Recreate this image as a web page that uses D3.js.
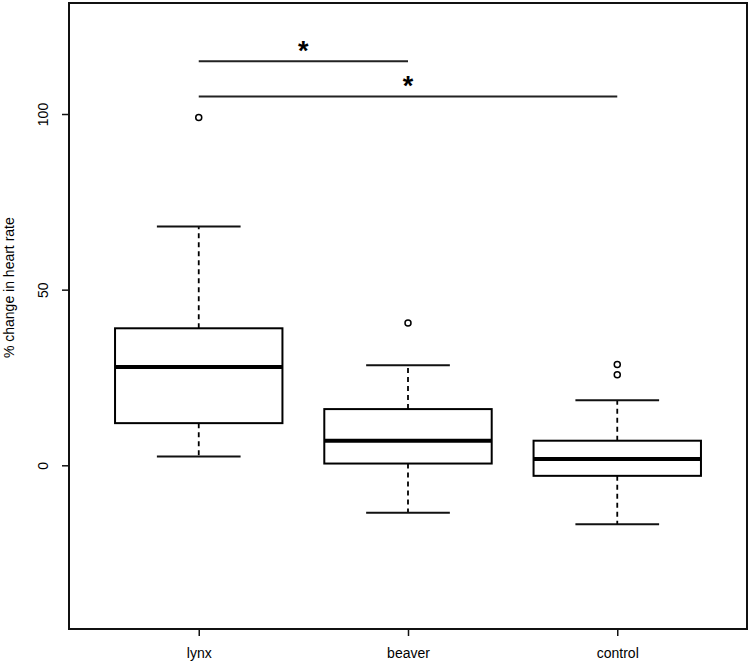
<!DOCTYPE html>
<html>
<head>
<meta charset="utf-8">
<script src="https://cdn.jsdelivr.net/npm/d3@7"></script>
<style>
  html, body { margin: 0; padding: 0; background: #fff; }
  svg { display: block; }
  text { font-family: "Liberation Sans", Arial, sans-serif; fill: #000; }
</style>
</head>
<body>
<svg id="chart" width="750" height="666"></svg>
<script>
// ---- data ----
const categories   = ["lynx", "beaver", "control"];
const whiskerLow   = [2.5, -13.5, -16.8];
const q1           = [12, 0.5, -3];
const medians      = [28, 7, 1.8];
const q3           = [39, 16, 7];
const whiskerHigh  = [68, 28.5, 18.5];
const outliers     = [[99], [40.5], [28.7, 25.8]];
const yTicks       = [0, 50, 100];
const yLabel       = "% change in heart rate";
const sigFrom      = ["lynx", "lynx"];
const sigTo        = ["beaver", "control"];
const sigLevel     = [115, 105];
const sigMark      = ["*", "*"];

// ---- layout ----
const svg = d3.select("#chart");
const plot = { left: 69, right: 747, top: 3, bottom: 629 };
const fontSize = "14px";

const x = d3.scaleLinear()
  .domain([0.38, 3.62])
  .range([plot.left, plot.right]);
const y = d3.scaleLinear()
  .domain([-46.6, 131.6])
  .range([plot.bottom, plot.top]);

const idx = c => categories.indexOf(c) + 1;
const boxHalf = 0.4;    // box width 0.8 units
const capHalf = 0.2;    // whisker caps half of box

const groups = categories.map((c, i) => ({
  name: c, pos: i + 1,
  lo: whiskerLow[i], q1: q1[i], med: medians[i], q3: q3[i], hi: whiskerHigh[i],
  out: outliers[i]
}));

const g = svg.append("g");

// whiskers (dashed)
g.selectAll(".wh-up").data(groups).join("line")
  .attr("x1", d => x(d.pos)).attr("x2", d => x(d.pos))
  .attr("y1", d => y(d.q3)).attr("y2", d => y(d.hi))
  .attr("stroke", "#000").attr("stroke-width", 1.8).attr("stroke-dasharray", "5,4");
g.selectAll(".wh-dn").data(groups).join("line")
  .attr("x1", d => x(d.pos)).attr("x2", d => x(d.pos))
  .attr("y1", d => y(d.q1)).attr("y2", d => y(d.lo))
  .attr("stroke", "#000").attr("stroke-width", 1.8).attr("stroke-dasharray", "5,4");

// caps
g.selectAll(".cap-hi").data(groups).join("line")
  .attr("x1", d => x(d.pos - capHalf)).attr("x2", d => x(d.pos + capHalf))
  .attr("y1", d => y(d.hi)).attr("y2", d => y(d.hi))
  .attr("stroke", "#111").attr("stroke-width", 2);
g.selectAll(".cap-lo").data(groups).join("line")
  .attr("x1", d => x(d.pos - capHalf)).attr("x2", d => x(d.pos + capHalf))
  .attr("y1", d => y(d.lo)).attr("y2", d => y(d.lo))
  .attr("stroke", "#111").attr("stroke-width", 2);

// boxes
g.selectAll(".box").data(groups).join("rect")
  .attr("x", d => x(d.pos - boxHalf))
  .attr("width", d => x(d.pos + boxHalf) - x(d.pos - boxHalf))
  .attr("y", d => y(d.q3))
  .attr("height", d => y(d.q1) - y(d.q3))
  .attr("fill", "#fff").attr("stroke", "#000").attr("stroke-width", 2);

// medians
g.selectAll(".med").data(groups).join("line")
  .attr("x1", d => x(d.pos - boxHalf)).attr("x2", d => x(d.pos + boxHalf))
  .attr("y1", d => y(d.med)).attr("y2", d => y(d.med))
  .attr("stroke", "#000").attr("stroke-width", 4);

// outliers
const outPts = groups.flatMap(d => d.out.map(v => ({ pos: d.pos, v })));
g.selectAll(".out").data(outPts).join("circle")
  .attr("cx", d => x(d.pos)).attr("cy", d => y(d.v))
  .attr("r", 3).attr("fill", "#fff").attr("stroke", "#000").attr("stroke-width", 1.5);

// significance bars
const sig = sigFrom.map((f, i) => ({ a: idx(f), b: idx(sigTo[i]), v: sigLevel[i], m: sigMark[i] }));
g.selectAll(".sig").data(sig).join("line")
  .attr("x1", d => x(d.a)).attr("x2", d => x(d.b))
  .attr("y1", d => y(d.v)).attr("y2", d => y(d.v))
  .attr("stroke", "#222").attr("stroke-width", 2);
g.selectAll(".star").data(sig).join("text")
  .attr("x", d => x((d.a + d.b) / 2))
  .attr("y", d => y(d.v) - 1)
  .attr("text-anchor", "middle")
  .style("font-size", "27px").style("font-weight", "bold")
  .text(d => d.m);

// frame
svg.append("rect")
  .attr("x", plot.left).attr("y", plot.top)
  .attr("width", plot.right - plot.left).attr("height", plot.bottom - plot.top)
  .attr("fill", "none").attr("stroke", "#111").attr("stroke-width", 2);

// x axis
const xAxis = d3.axisBottom(x).tickValues(categories.map((c, i) => i + 1))
  .tickFormat(v => categories[v - 1]).tickSize(7).tickSizeOuter(0);
const xa = svg.append("g").attr("transform", `translate(0,${plot.bottom})`).call(xAxis);
xa.select(".domain").remove();
xa.selectAll(".tick line").attr("stroke", "#111").attr("stroke-width", 1.5);
xa.selectAll(".tick text").attr("y", 25).attr("dy", "0.32em")
  .style("font-size", fontSize).style("font-family", "Liberation Sans, Arial, sans-serif").attr("fill", "#000");

// y axis
const yAxis = d3.axisLeft(y).tickValues(yTicks).tickSize(7).tickSizeOuter(0);
const ya = svg.append("g").attr("transform", `translate(${plot.left},0)`).call(yAxis);
ya.select(".domain").remove();
ya.selectAll(".tick line").attr("stroke", "#111").attr("stroke-width", 1.5);
ya.selectAll(".tick text")
  .attr("x", 0).attr("y", 0).attr("dy", 0)
  .attr("transform", "translate(-21,0) rotate(-90)")
  .attr("text-anchor", "middle")
  .style("font-size", fontSize).style("font-family", "Liberation Sans, Arial, sans-serif").attr("fill", "#000");

// y label
svg.append("text")
  .attr("transform", `translate(14,${y(50) - 2}) rotate(-90)`)
  .attr("text-anchor", "middle")
  .style("font-size", fontSize)
  .text(yLabel);
</script>
</body>
</html>
